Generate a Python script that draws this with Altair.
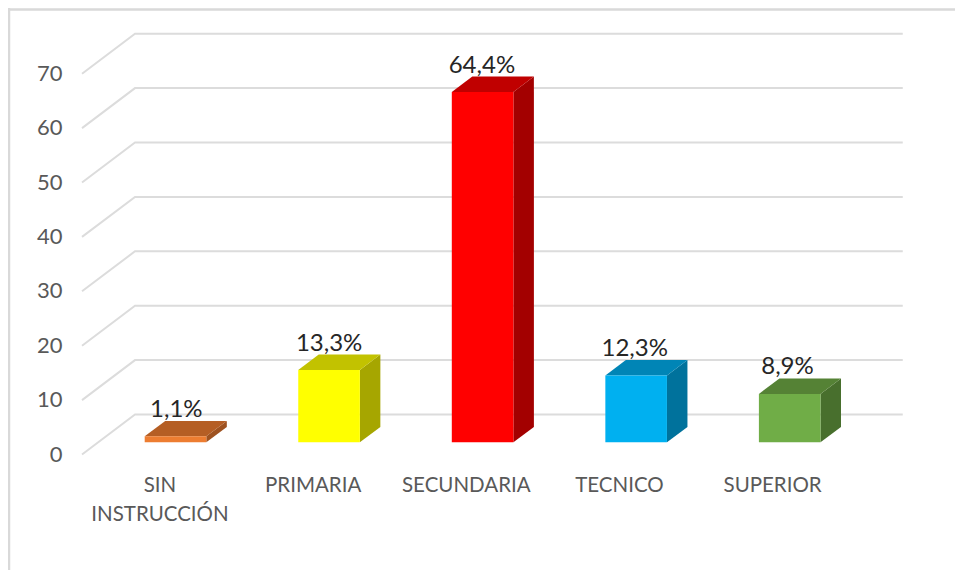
import altair as alt
import pandas as pd

categories = ["SIN INSTRUCCIÓN", "PRIMARIA", "SECUNDARIA", "TECNICO", "SUPERIOR"]
values = [1.1, 13.3, 64.4, 12.3, 8.9]
labels = ["1,1%", "13,3%", "64,4%", "12,3%", "8,9%"]
front_colors = ["#ED7D31", "#FFFF00", "#FF0000", "#00B0F0", "#70AD47"]
top_colors = ["#B55E24", "#C2C200", "#C00000", "#0085B6", "#558235"]
side_colors = ["#9E5220", "#A6A600", "#A30000", "#00729C", "#486F2D"]
ticks = [0, 10, 20, 30, 40, 50, 60, 70]

W, H = 947, 562
PX_PER_I = 153.55
PX_PER_V = 5.44
X0 = 167.5          # centre of first bar, chart px
Y0 = 446.5          # value 0 on the front wall, chart px

x_dom = [-X0 / PX_PER_I, (W - X0) / PX_PER_I]
y_dom = [(Y0 - H) / PX_PER_V, Y0 / PX_PER_V]
xs = alt.Scale(domain=x_dom, nice=False, zero=False)
ys = alt.Scale(domain=y_dom, nice=False, zero=False)

# depth geometry in scale units
WALL_DX = 53 / PX_PER_I
WALL_DY = 40.0 / PX_PER_V
WALL_LEFT = -0.2637
WALL_RIGHT = 4.7363
BAR_PLANE = 12.2 / PX_PER_V
HALF = 30.8 / PX_PER_I
BAR_DX = 20.5 / PX_PER_I
BAR_DY = 15.4 / PX_PER_V

y_axis = alt.Axis(
    values=ticks, domain=False, ticks=False, grid=False, title=None,
    offset=-54, labelPadding=0, labelFont="Lato", labelFontSize=22,
    labelColor="#595959", labelOffset=-0.5)

grid_rows = []
for t in ticks:
    grid_rows += [
        {"t": t, "o": 0, "x": WALL_LEFT - WALL_DX, "y": t},
        {"t": t, "o": 1, "x": WALL_LEFT, "y": t + WALL_DY},
        {"t": t, "o": 2, "x": WALL_RIGHT, "y": t + WALL_DY},
    ]

front_rows, side_rows, top_rows, label_rows, cat_rows = [], [], [], [], []
for i, (c, v, lab, fc, tc, sc) in enumerate(zip(categories, values, labels, front_colors, top_colors, side_colors)):
    base = BAR_PLANE
    t = v + BAR_PLANE
    front_rows.append({"c": c, "x": i - HALF, "x2": i + HALF, "y": t, "y2": base, "col": fc})
    side_rows += [
        {"c": c, "x": i + HALF, "y": t, "y2": base, "col": sc},
        {"c": c, "x": i + HALF + BAR_DX, "y": t + BAR_DY, "y2": base + BAR_DY, "col": sc},
    ]
    top_rows += [
        {"c": c, "x": i - HALF, "x2": i + HALF, "y": t, "col": tc},
        {"c": c, "x": i - HALF + BAR_DX, "x2": i + HALF + BAR_DX, "y": t + BAR_DY, "col": tc},
    ]
    label_rows.append({"x": i + (0.8 - 0.75 * i) / PX_PER_I, "y": t + BAR_DY + 11 / PX_PER_V, "text": lab})
    cat_rows.append({"x": i - (15.5 + 0.4 * i) / PX_PER_I, "y": -3.95, "text": c})

X = alt.X("x:Q", scale=xs, axis=None)
Y = alt.Y("y:Q", scale=ys, axis=y_axis, stack=None)
colour = alt.Color("col:N", scale=None, legend=None)

grid = alt.Chart(pd.DataFrame(grid_rows)).mark_line(color="#dcdcdc", strokeWidth=2, strokeCap="butt").encode(
    x=X, y=Y, detail="t:N", order="o:Q")
side = alt.Chart(pd.DataFrame(side_rows)).mark_area(orient="vertical", opacity=1).encode(
    x=X, y=Y, y2="y2:Q", color=colour, detail="c:N")
top = alt.Chart(pd.DataFrame(top_rows)).mark_area(orient="horizontal", opacity=1).encode(
    x=alt.X("x:Q", scale=xs, axis=None, stack=None), x2="x2:Q",
    y=alt.Y("y:Q", scale=ys, axis=y_axis), color=colour, detail="c:N")
front = alt.Chart(pd.DataFrame(front_rows)).mark_rect().encode(
    x=X, x2="x2:Q", y=Y, y2="y2:Q", color=colour)

value_text = alt.Chart(pd.DataFrame(label_rows)).mark_text(
    font="Lato", fontSize=24, color="#262626", align="center", baseline="middle").encode(
    x=X, y=Y, text="text:N")

cat_text = alt.Chart(pd.DataFrame(cat_rows)).mark_text(
    font="Lato", fontSize=20.5, color="#595959", align="center", baseline="top",
    lineBreak=" ", lineHeight=29).encode(
    x=X, y=Y, text="text:N")

frame_top = alt.Chart(pd.DataFrame({"a": [0]})).mark_rule(color="#d9d9d9", strokeWidth=2.5).encode(
    x=alt.value(0), x2=alt.value(W), y=alt.value(1.5))
frame_left = alt.Chart(pd.DataFrame({"a": [0]})).mark_rule(color="#d9d9d9", strokeWidth=2.5).encode(
    x=alt.value(1), y=alt.value(0), y2=alt.value(H))

chart = alt.layer(grid, side, top, front, value_text, cat_text, frame_top, frame_left).properties(
    width=W, height=H,
    autosize=alt.AutoSizeParams(type="none"),
    padding=0,
    background="white",
).configure_view(stroke=None)

chart.save("out.html", embed_options={"renderer": "svg", "actions": False})
